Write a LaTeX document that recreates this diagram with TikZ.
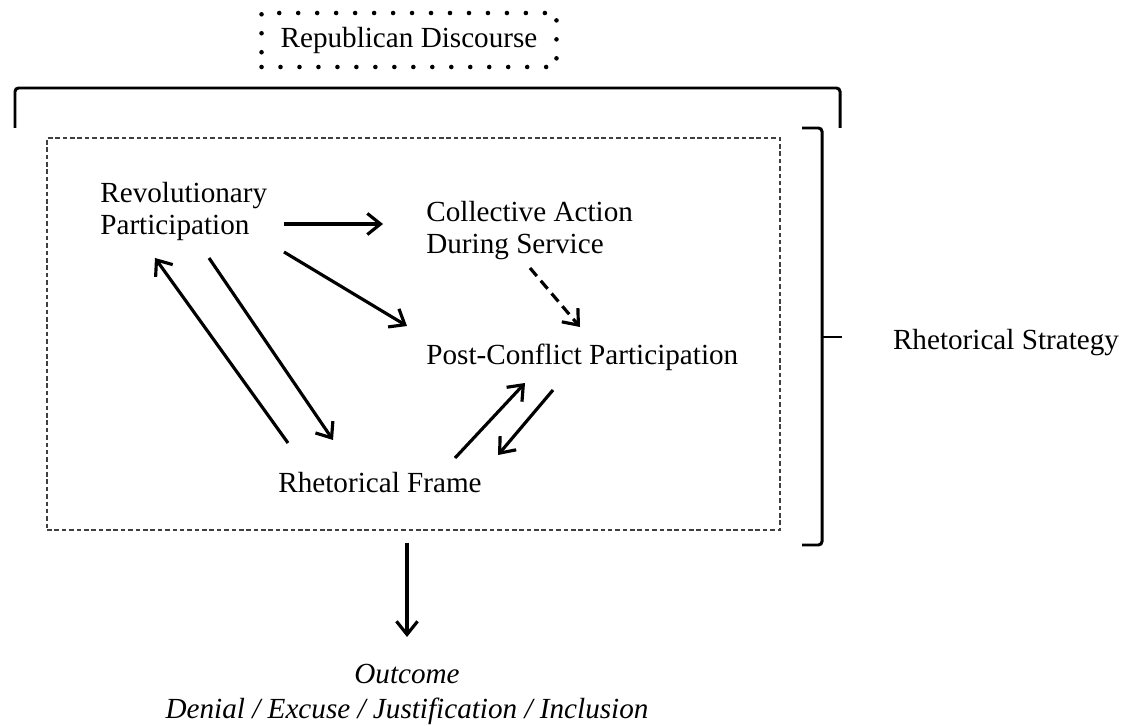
\documentclass[tikz,border=0pt]{standalone}
\usepackage{fontspec}
\setmainfont{Liberation Serif}
\usepackage{tikz}
\usetikzlibrary{arrows.meta}

\begin{document}
\begin{tikzpicture}[x=0.02cm, y=-0.02cm,
    lbl/.style={inner sep=0pt, font=\fontsize{16.6}{18.2}\selectfont},
    arr/.style={line width=1.8pt, -{Straight Barb[length=7.5pt, width=12pt, line width=1.8pt]}},
    brk/.style={line width=1.7pt, rounded corners=2pt},
    dotbox/.style={draw, line width=2.6pt, line cap=round, dash pattern=on 0pt off 10.8pt, minimum width=5.9cm, minimum height=1.08cm},
    dashbox/.style={draw=black!75, line width=0.7pt, dash pattern=on 2.6pt off 1.6pt, minimum width=14.66cm, minimum height=7.84cm}]
    \useasboundingbox (0,0) rectangle (1129,726);

    \node[lbl, dotbox] (rd) at (409,40) {Republican Discourse};
    \node[dashbox] (frame) at (413.5,334) {};

    \node[lbl, anchor=west, align=left] (rev) at (100,211) {Revolutionary\\Participation};
    \node[lbl, anchor=west, align=left] (cas) at (426,231) {Collective Action\\During Service};
    \node[lbl, anchor=west] (pcp) at (426,357) {Post-Conflict Participation};
    \node[lbl] (rf) at (380,483) {Rhetorical Frame};
    \node[lbl] (rs) at (1006,343) {Rhetorical Strategy};
    \node[lbl, anchor=north, align=center, font=\fontsize{16.6}{19.8}\selectfont\itshape] (out) at (407,664) {Outcome\\Denial / Excuse / Justification / Inclusion};

    \draw[brk] (15,128) -- (15,88) -- (840,88) -- (840,128);
    \draw[brk] (802,128) -- (822,128) -- (822,545) -- (802,545);
    \draw[brk] (822,337) -- (842,337);

    \draw[arr] ([shift={(184,13)}]rev.west) -- ([shift={(-43,-7)}]cas.west);
    \draw[arr] ([shift={(184,41)}]rev.west) -- ([shift={(-19,-31)}]pcp.west);
    \draw[arr, dash pattern=on 6pt off 3.5pt] ([shift={(104,37)}]cas.west) -- ([shift={(154,-30)}]pcp.west);
    \draw[arr] ([shift={(-92,-40)}]rf.center) -- ([shift={(55,47)}]rev.west);
    \draw[arr] ([shift={(109,47)}]rev.west) -- ([shift={(-47,-43)}]rf.center);
    \draw[arr] ([shift={(75,-25)}]rf.center) -- ([shift={(99,26)}]pcp.west);
    \draw[arr] ([shift={(127,33)}]pcp.west) -- ([shift={(118,-28)}]rf.center);
    \draw[arr] ([shift={(-6.5,12)}]frame.south) -- ([shift={(0,-27)}]out.north);
\end{tikzpicture}
\end{document}
